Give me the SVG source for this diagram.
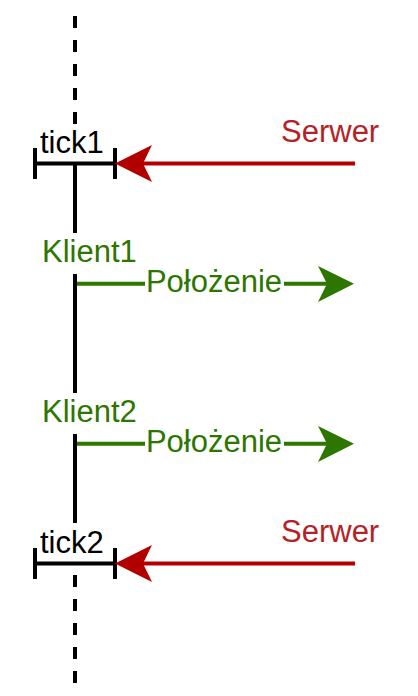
<svg xmlns="http://www.w3.org/2000/svg" width="418" height="696" viewBox="0 0 418 696">
<style>
.t{font-family:"Liberation Sans",Arial,sans-serif;font-size:31px}
.blk{fill:#000000}
.red{fill:#B20000}
.rt{fill:#B52226}
.grn{fill:#2D7600}
.axis{stroke:#000;stroke-width:4;fill:none}
.dash{stroke-dasharray:12 12}
.bar{stroke:#000;stroke-width:4;fill:none}
.ra{stroke:#B20000;stroke-width:4;fill:none}
.ga{stroke:#2D7600;stroke-width:4;fill:none}
</style>
<rect width="418" height="696" fill="#fff"/>
<g id="timeline">
<line class="axis dash" x1="75" y1="16" x2="75" y2="136"/>
<line class="axis" x1="75" y1="163" x2="75" y2="233"/>
<line class="axis" x1="75" y1="274" x2="75" y2="393"/>
<line class="axis" x1="75" y1="434" x2="75" y2="523"/>
<line class="axis dash" x1="75" y1="575" x2="75" y2="690"/>
</g>
<g id="tick1">
<path class="bar" d="M35 148V179M35 163.5H115M115 148V179"/>
<text class="t blk" x="40" y="153">tick1</text>
</g>
<g id="tick2">
<path class="bar" d="M35 548V579M35 563.5H115M115 548V579"/>
<text class="t blk" x="40" y="553">tick2</text>
</g>
<g id="serwer1">
<text class="t rt" x="281" y="142">Serwer</text>
</g>
<g id="serwer2">
<text class="t rt" x="281" y="542">Serwer</text>
</g>
<g id="klient1">
<text class="t grn" x="42" y="262">Klient1</text>
</g>
<g id="klient2">
<text class="t grn" x="42" y="422">Klient2</text>
</g>
<g id="connectors">
<line class="ra" x1="355" y1="163.5" x2="140" y2="163.5"/>
<path class="red" d="M115 163.5L152 145L143 163.5L152 182Z"/>
<line class="ra" x1="355" y1="563.5" x2="140" y2="563.5"/>
<path class="red" d="M115 563.5L152 545L143 563.5L152 582Z"/>
<line class="ga" x1="77" y1="283.7" x2="330" y2="283.7"/>
<path class="grn" d="M354 283.7L318 266L327 283.7L318 302Z"/>
<rect x="145" y="266" width="139" height="34" fill="#fff"/>
<text class="t grn" x="214" y="292" text-anchor="middle">Położenie</text>
<line class="ga" x1="77" y1="443.7" x2="330" y2="443.7"/>
<path class="grn" d="M354 443.7L318 426L327 443.7L318 462Z"/>
<rect x="145" y="426" width="139" height="34" fill="#fff"/>
<text class="t grn" x="214" y="452" text-anchor="middle">Położenie</text>
</g>
</svg>
